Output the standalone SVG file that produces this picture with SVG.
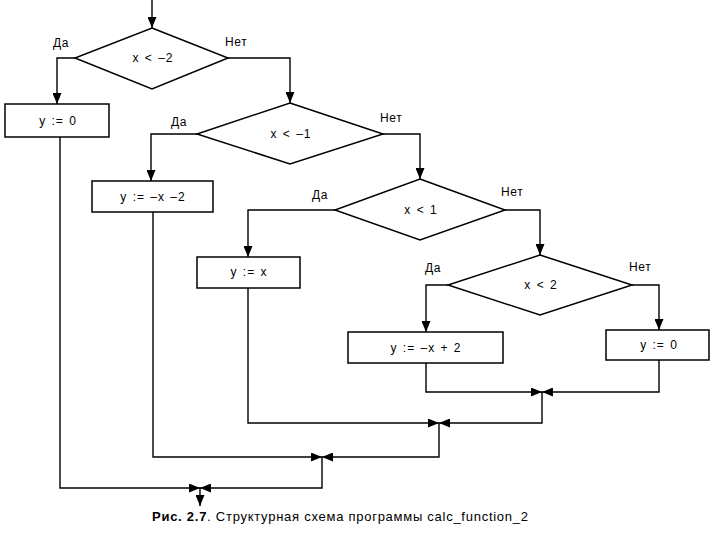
<svg xmlns="http://www.w3.org/2000/svg" width="720" height="540" viewBox="0 0 720 540">
<style>
.n{fill:#fff;stroke:#000;stroke-width:1.5}
.c{fill:none;stroke:#000;stroke-width:1.4}
.t{font-family:"Liberation Sans",Arial,sans-serif;font-size:12px;letter-spacing:1px;word-spacing:1px;fill:#000;text-anchor:middle}
.l{font-family:"Liberation Sans",Arial,sans-serif;font-size:12px;letter-spacing:0.6px;fill:#000}
.cap{font-family:"Liberation Sans",Arial,sans-serif;font-size:13px;fill:#000}
</style>
<defs>
<marker id="a" markerUnits="userSpaceOnUse" markerWidth="11" markerHeight="9" refX="11" refY="4.5" orient="auto">
<path d="M0,0 L11,4.5 L0,9 z" fill="#000"/>
</marker>
</defs>
<rect width="720" height="540" fill="#fff"/>
<g id="connectors">
<path class="c" d="M152,0 V28" marker-end="url(#a)"/>
<path class="c" d="M75,58 H57 V104" marker-end="url(#a)"/>
<path class="c" d="M228,58 H290 V103" marker-end="url(#a)"/>
<path class="c" d="M197,134 H151 V181" marker-end="url(#a)"/>
<path class="c" d="M383,134 H420 V179" marker-end="url(#a)"/>
<path class="c" d="M335,210 H248 V257" marker-end="url(#a)"/>
<path class="c" d="M505,210 H540 V255" marker-end="url(#a)"/>
<path class="c" d="M448,285 H426 V332" marker-end="url(#a)"/>
<path class="c" d="M632,285 H659 V330" marker-end="url(#a)"/>
<path class="c" d="M426,363 V392 H542" marker-end="url(#a)"/>
<path class="c" d="M659,360 V392 H542" marker-end="url(#a)"/>
<path class="c" d="M542,392 V423 H439" marker-end="url(#a)"/>
<path class="c" d="M248,288 V423 H439" marker-end="url(#a)"/>
<path class="c" d="M439,423 V457 H322" marker-end="url(#a)"/>
<path class="c" d="M153,212 V457 H322" marker-end="url(#a)"/>
<path class="c" d="M322,457 V488 H200" marker-end="url(#a)"/>
<path class="c" d="M60,137 V488 H200" marker-end="url(#a)"/>
<path class="c" d="M200,488 V506" marker-end="url(#a)"/>
<text class="l" x="53" y="47">Да</text>
<text class="l" x="225" y="46">Нет</text>
<text class="l" x="171" y="126">Да</text>
<text class="l" x="380" y="122">Нет</text>
<text class="l" x="312" y="199">Да</text>
<text class="l" x="501" y="196">Нет</text>
<text class="l" x="425" y="272">Да</text>
<text class="l" x="629" y="271">Нет</text>
</g>
<g id="d1"><polygon class="n" points="152,28 228,58 152,89 75,58"/><text class="t" x="153" y="62">x &lt; –2</text></g>
<g id="b1"><rect class="n" x="5" y="104" width="104" height="33"/><text class="t" x="58" y="125">y := 0</text></g>
<g id="d2"><polygon class="n" points="290,103 383,134 290,164 197,134"/><text class="t" x="291" y="138">x &lt; –1</text></g>
<g id="b2"><rect class="n" x="92" y="181" width="121" height="31"/><text class="t" x="153" y="201">y := –x –2</text></g>
<g id="d3"><polygon class="n" points="420,179 505,210 420,240 335,210"/><text class="t" x="421" y="214">x &lt; 1</text></g>
<g id="b3"><rect class="n" x="197" y="257" width="103" height="31"/><text class="t" x="249" y="276">y := x</text></g>
<g id="d4"><polygon class="n" points="540,255 632,285 540,315 448,285"/><text class="t" x="541" y="289">x &lt; 2</text></g>
<g id="b4"><rect class="n" x="348" y="332" width="155" height="31"/><text class="t" x="426" y="352">y := –x + 2</text></g>
<g id="b5"><rect class="n" x="606" y="330" width="103" height="30"/><text class="t" x="659" y="349">y := 0</text></g>
<text class="cap" x="152" y="521" textLength="376" lengthAdjust="spacing"><tspan font-weight="bold">Рис. 2.7</tspan>. Структурная схема программы calc_function_2</text>
</svg>
